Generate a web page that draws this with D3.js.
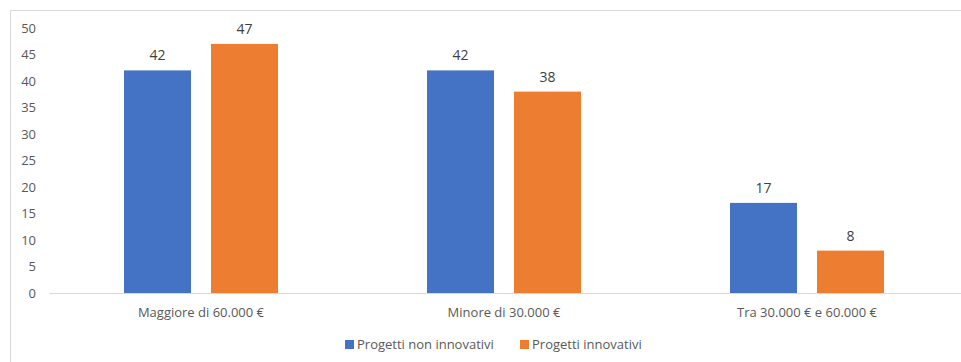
<!DOCTYPE html>
<html><head><meta charset="utf-8">
<script src="https://cdn.jsdelivr.net/npm/d3@7"></script>
<style>
body{margin:0;background:#fff;}
svg{display:block;font-family:"Open Sans","Noto Sans",sans-serif;}
</style></head>
<body>
<svg id="c" width="961" height="362"></svg>
<script>
const categories = ["Maggiore di 60.000 €", "Minore di 30.000 €", "Tra 30.000 € e 60.000 €"];
const seriesNames = ["Progetti non innovativi", "Progetti innovativi"];
const nonInnovativi = [42, 42, 17];
const innovativi = [47, 38, 8];
const yTicks = [0, 5, 10, 15, 20, 25, 30, 35, 40, 45, 50];
const colors = ["#4472C4", "#ED7D31"];

const seriesValues = [nonInnovativi, innovativi];
const svg = d3.select("#c");

// chart border (cropped on right/bottom)
svg.append("rect").attr("x", 10.5).attr("y", 10.5).attr("width", 980).attr("height", 400)
  .attr("fill", "none").attr("stroke", "#d9d9d9").attr("stroke-width", 1);

const x0 = d3.scaleBand().domain(categories).range([49.5, 958.5]).padding(0);
const x1 = d3.scaleBand().domain(seriesNames).range([74.5, 228.5]).paddingInner(0.23).paddingOuter(0);
const y = d3.scaleLinear().domain([0, 50]).range([293, 28]);

// y tick labels
svg.append("g").selectAll("text").data(yTicks).join("text")
  .attr("x", 36).attr("y", d => y(d)).attr("dy", "0.35em")
  .attr("text-anchor", "end").attr("font-size", 13).attr("fill", "#595959")
  .text(d => d);

// bars
const groups = svg.append("g").selectAll("g").data(categories).join("g")
  .attr("transform", d => `translate(${x0(d)},0)`);

groups.each(function(cat, ci) {
  const g = d3.select(this);
  seriesNames.forEach((s, si) => {
    const v = seriesValues[si][ci];
    g.append("rect").attr("x", x1(s)).attr("y", y(v))
      .attr("width", x1.bandwidth()).attr("height", y(0) - y(v))
      .attr("fill", colors[si]);
    g.append("text").attr("x", x1(s) + x1.bandwidth() / 2).attr("y", y(v) - 10)
      .attr("text-anchor", "middle").attr("font-size", 14).attr("fill", "#404040")
      .text(v);
  });
});

// x axis line
svg.append("line").attr("x1", 49.5).attr("x2", 961).attr("y1", 293.5).attr("y2", 293.5)
  .attr("stroke", "#d9d9d9").attr("stroke-width", 1);

// category labels
svg.append("g").selectAll("text").data(categories).join("text")
  .attr("x", d => x0(d) + x0.bandwidth() / 2).attr("y", 317)
  .attr("text-anchor", "middle").attr("font-size", 13).attr("fill", "#595959")
  .text(d => d);

// legend
const legendX = [345, 520];
const lg = svg.append("g").selectAll("g").data(seriesNames).join("g")
  .attr("transform", (d, i) => `translate(${legendX[i]},340)`);
lg.append("rect").attr("width", 9).attr("height", 9).attr("fill", (d, i) => colors[i]);
lg.append("text").attr("x", 12).attr("y", 4.5).attr("dy", "0.35em")
  .attr("font-size", 13).attr("fill", "#595959").text(d => d);
</script>
</body></html>
